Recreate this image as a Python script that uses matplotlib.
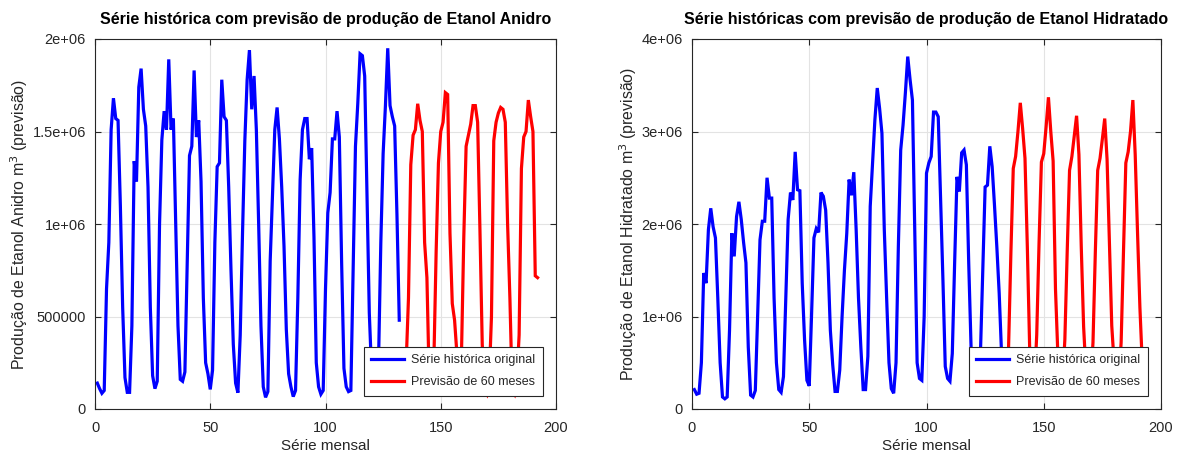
import numpy as np
import matplotlib
matplotlib.use("Agg")
import matplotlib.pyplot as plt

plt.rcParams['font.family'] = ['Liberation Sans', 'DejaVu Sans']

# ---- data (values in millions of m3) ----
anidro_hist = [
    0.14, 0.11, 0.085, 0.10, 0.65, 0.90, 1.51, 1.68, 1.57, 1.56, 1.10, 0.55,
    0.17, 0.09, 0.09, 0.45, 1.34, 1.23, 1.74, 1.84, 1.62, 1.53, 1.20, 0.55,
    0.18, 0.11, 0.15, 1.00, 1.455, 1.61, 1.51, 1.89, 1.51, 1.57, 1.00, 0.45,
    0.16, 0.15, 0.20, 0.79, 1.37, 1.42, 1.83, 1.47, 1.56, 1.23, 0.60, 0.25,
    0.19, 0.106, 0.21, 0.90, 1.31, 1.33, 1.78, 1.58, 1.56, 1.20, 0.75, 0.35,
    0.14, 0.088, 0.40, 0.95, 1.45, 1.78, 1.94, 1.62, 1.80, 1.51, 1.00, 0.45,
    0.12, 0.063, 0.094, 0.80, 1.15, 1.51, 1.63, 1.46, 1.20, 0.88, 0.43, 0.19,
    0.12, 0.067, 0.10, 0.60, 1.24, 1.51, 1.57, 1.57, 1.35, 1.41, 0.93, 0.25,
    0.12, 0.08, 0.10, 0.65, 1.06, 1.17, 1.46, 1.46, 1.61, 1.47, 0.79, 0.22,
    0.12, 0.094, 0.10, 0.75, 1.42, 1.65, 1.92, 1.91, 1.80, 1.15, 0.52, 0.20,
    0.10, 0.09, 0.25, 0.90, 1.38, 1.64, 1.95, 1.64, 1.58, 1.53, 1.05, 0.48,
]
anidro_prev = [
    0.15, 0.10, 0.25, 0.60, 1.32, 1.48, 1.51, 1.65, 1.56, 1.50, 0.90, 0.71,
    0.15, 0.10, 0.25, 0.85, 1.33, 1.50, 1.55, 1.71, 1.70, 0.95, 0.57, 0.48,
    0.30, 0.10, 0.30, 0.93, 1.42, 1.48, 1.54, 1.64, 1.64, 1.55, 0.97, 0.35,
    0.10, 0.08, 0.15, 0.50, 1.45, 1.55, 1.60, 1.63, 1.62, 1.55, 1.00, 0.60,
    0.10, 0.08, 0.15, 0.40, 1.30, 1.47, 1.50, 1.67, 1.58, 1.50, 0.72, 0.71,
]
hidratado_hist = [
    0.21, 0.16, 0.17, 0.50, 1.47, 1.36, 1.94, 2.17, 1.97, 1.85, 1.20, 0.50,
    0.13, 0.11, 0.13, 0.85, 1.90, 1.65, 2.08, 2.24, 2.05, 1.80, 1.58, 0.67,
    0.15, 0.13, 0.20, 1.03, 1.83, 2.03, 2.03, 2.50, 2.28, 2.28, 1.20, 0.50,
    0.21, 0.18, 0.35, 1.20, 2.05, 2.34, 2.26, 2.78, 2.37, 2.36, 1.36, 0.75,
    0.31, 0.25, 1.03, 1.85, 1.95, 1.91, 2.34, 2.30, 2.15, 1.58, 0.85, 0.48,
    0.19, 0.19, 0.42, 1.00, 1.50, 1.90, 2.48, 2.31, 2.56, 1.94, 1.20, 0.67,
    0.21, 0.21, 0.57, 2.19, 2.66, 3.13, 3.47, 3.25, 2.98, 1.94, 1.20, 0.50,
    0.22, 0.17, 0.50, 1.76, 2.80, 3.07, 3.42, 3.81, 3.56, 3.34, 1.94, 0.50,
    0.33, 0.31, 1.00, 2.55, 2.66, 2.73, 3.21, 3.21, 3.16, 2.30, 1.40, 0.46,
    0.33, 0.30, 0.60, 1.58, 2.51, 2.35, 2.77, 2.80, 2.64, 1.58, 0.67, 0.30,
    0.25, 0.30, 0.60, 1.50, 2.40, 2.42, 2.84, 2.62, 2.20, 1.75, 1.25, 0.60,
]
hidratado_prev = [
    0.35, 0.25, 0.67, 1.70, 2.60, 2.73, 3.00, 3.31, 3.03, 2.71, 1.75, 0.65,
    0.30, 0.25, 0.80, 1.80, 2.67, 2.76, 3.05, 3.37, 3.00, 2.68, 1.30, 0.60,
    0.30, 0.28, 0.75, 1.70, 2.58, 2.73, 2.95, 3.17, 2.75, 1.75, 0.89, 0.40,
    0.30, 0.28, 0.72, 1.70, 2.58, 2.71, 2.92, 3.14, 2.70, 1.80, 0.90, 0.50,
    0.30, 0.28, 0.72, 1.70, 2.66, 2.78, 3.00, 3.34, 2.75, 1.90, 1.10, 0.50,
]
x_hist = np.arange(1, len(anidro_hist) + 1)
x_prev = np.arange(len(anidro_hist) + 1, len(anidro_hist) + len(anidro_prev) + 1)

x_ticks = [0, 50, 100, 150, 200]
anidro_yticks = [0, 500000, 1000000, 1500000, 2000000]
anidro_yticklabels = ['0', '500000', '1e+06', '1.5e+06', '2e+06']
hidratado_yticks = [0, 1000000, 2000000, 3000000, 4000000]
hidratado_yticklabels = ['0', '1e+06', '2e+06', '3e+06', '4e+06']

titles = ['Série histórica com previsão de produção de Etanol Anidro',
          'Série históricas com previsão de produção de Etanol Hidratado']
ylabels = ['Produção de Etanol Anidro m$^3$ (previsão)',
           'Produção de Etanol Hidratado m$^3$ (previsão)']
legend_labels = ['Série histórica original', 'Previsão de 60 meses']

W, H = 1177, 454
fig = plt.figure(figsize=(W / 100, H / 100), dpi=100)
fig.patch.set_facecolor('white')

axes_px = [(95, 556), (692, 1161)]
top_px, bot_px = 39, 409

panels = [
    (anidro_hist, anidro_prev, anidro_yticks, anidro_yticklabels, 2000000),
    (hidratado_hist, hidratado_prev, hidratado_yticks, hidratado_yticklabels, 4000000),
]
dark = '#262626'
for i, (hist, prev, yt, ytl, ymax) in enumerate(panels):
    l, r = axes_px[i]
    ax = fig.add_axes([l / W, (H - bot_px) / H, (r - l) / W, (bot_px - top_px) / H])
    ax.plot(x_hist, np.array(hist) * 1e6, color=(0, 0, 1), lw=2.3,
            label=legend_labels[0], solid_joinstyle='miter')
    ax.plot(x_prev, np.array(prev) * 1e6, color=(1, 0, 0), lw=2.3,
            label=legend_labels[1], solid_joinstyle='miter')
    ax.set_xlim(0, 200)
    ax.set_ylim(0, ymax)
    ax.set_xticks(x_ticks)
    ax.set_xticklabels([str(t) for t in x_ticks])
    ax.set_yticks(yt)
    ax.set_yticklabels(ytl)
    ax.grid(True, color='#e3e3e3', lw=0.8)
    ax.set_axisbelow(True)
    ax.tick_params(direction='in', length=4, width=0.8, colors=dark,
                   labelsize=10.5, top=True, right=True)
    ax.tick_params(axis='x', pad=8.5)
    ax.tick_params(axis='y', pad=6.5)
    for s in ax.spines.values():
        s.set_color(dark)
        s.set_linewidth(0.8)
    ax.set_title(titles[i], fontsize=11.5, fontweight='bold', pad=11, color='black')
    ax.set_xlabel('Série mensal', fontsize=11, color=dark, labelpad=3)
    ax.set_ylabel(ylabels[i], fontsize=11.4, color=dark, labelpad=2)
    leg = ax.legend(loc='lower right', fontsize=9, frameon=True, fancybox=False,
                    edgecolor=dark, framealpha=1, handlelength=2.64,
                    borderaxespad=1.04, borderpad=0.62, labelspacing=0.78,
                    handletextpad=0.55)
    leg.get_frame().set_linewidth(0.8)
    for t in leg.get_texts():
        t.set_color(dark)

fig.savefig('out.png', dpi=100, facecolor='white')
